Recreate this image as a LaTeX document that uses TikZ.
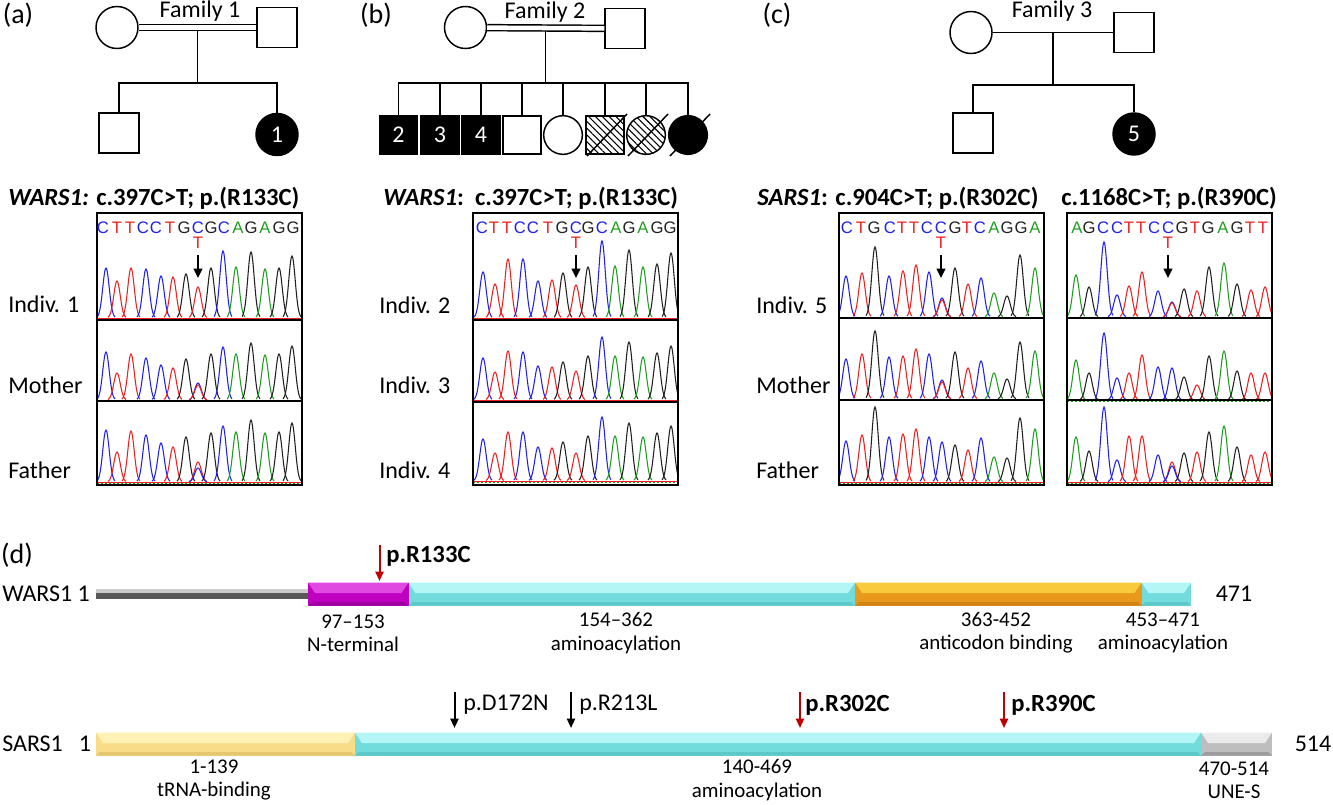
\documentclass[tikz,border=0pt]{standalone}
\usepackage{fontspec}
\setmainfont{Carlito}
\newfontfamily\seqfont{Liberation Sans}
\usetikzlibrary{patterns.meta,arrows.meta}
\definecolor{chA}{HTML}{1E9E1E}
\definecolor{chC}{HTML}{2020F0}
\definecolor{chG}{HTML}{202020}
\definecolor{chT}{HTML}{F01E1E}
\definecolor{mutred}{HTML}{C00000}
\definecolor{magL}{HTML}{E04AE0}
\definecolor{magM}{HTML}{C000C0}
\definecolor{magD}{HTML}{A000A0}
\definecolor{cyaL}{HTML}{B4F6F6}
\definecolor{cyaM}{HTML}{72DCDC}
\definecolor{cyaD}{HTML}{5CC8C8}
\definecolor{orgL}{HTML}{F8CA3C}
\definecolor{orgM}{HTML}{E8981A}
\definecolor{orgD}{HTML}{D08212}
\definecolor{yelL}{HTML}{FFF2B4}
\definecolor{yelM}{HTML}{F8DC88}
\definecolor{yelD}{HTML}{E6C670}
\definecolor{gryL}{HTML}{EBEBEB}
\definecolor{gryM}{HTML}{BEBEBE}
\definecolor{gryD}{HTML}{9C9C9C}
\newcommand\fsL{\fontsize{18pt}{21pt}\selectfont}
\newcommand\fsP{\fontsize{21pt}{24pt}\selectfont}
\newcommand\fsH{\fontsize{18.5pt}{21pt}\selectfont\bfseries}
\newcommand\fsD{\fontsize{15.7pt}{17.5pt}\selectfont}
\newcommand\fsQ{\seqfont\fontsize{12.5pt}{14pt}\selectfont}
\newcommand\chpk[4]{\draw[color=#4,line width=0.8pt] plot[domain=-9:9,samples=25,smooth] ({#1+\x},{#2-#3*exp(-(\x*\x)/21)});}
\newcommand\chlane[2]{\foreach \xx/\hh/\cc in {#2}{\chpk{\xx}{#1}{\hh}{\cc}}}
\newcommand\chbase[3]{\draw[chT,line width=0.5pt] (#1,#3) -- (#2,#3);\draw[chA,line width=0.4pt,dash pattern=on 1.5pt off 1.5pt] (#1,#3+0.8) -- (#2,#3+0.8);}
\newcommand\pdomain[6]{%
 \fill[#5] (#1,#3-11.5) rectangle (#2,#3+11.5);
 \fill[#4] (#1,#3-11.5) -- (#2,#3-11.5) -- (#2-7,#3-1) -- (#1+7,#3-1) -- cycle;
 \fill[#6] (#1,#3+11.5) -- (#2,#3+11.5) -- (#2-4,#3+8) -- (#1+4,#3+8) -- cycle;}
\tikzset{
 ped/.style={line width=1.1pt},
 psq/.style={draw,line width=1.1pt,rectangle,minimum size=30pt,inner sep=0pt},
 pci/.style={draw,line width=1.1pt,circle,minimum size=31.5pt,inner sep=0pt},
 ksq/.style={psq,minimum size=28.5pt},
 kci/.style={pci,minimum size=29pt},
 aff/.style={fill=black,text=white,font=\fsL},
 hatch/.style={pattern={Lines[angle=-45,distance=3.6pt,line width=0.8pt]}},
 lbl/.style={font=\fsL,inner sep=0pt},
 plbl/.style={font=\fsP,inner sep=0pt},
 hdr/.style={font=\fsH,inner sep=0pt,anchor=west},
 dlbl/.style={font=\fsD,inner sep=0pt,align=center},
 seq/.style={font=\fsQ,inner sep=0pt},
 mutarr/.style={-{Triangle[length=7pt,width=6.5pt]},line width=1.3pt},
 redarr/.style={-{Triangle[length=7pt,width=6pt]},line width=1.5pt,mutred},
 blkarr/.style={-{Triangle[length=7pt,width=6pt]},line width=1.5pt,black},
 dbl/.style={line width=1.1pt,double distance=3.4pt},
 cbox/.style={line width=1.5pt},
 cdiv/.style={line width=1.1pt}
}
\begin{document}
\begin{tikzpicture}[x=0.75pt,y=-0.75pt]
\useasboundingbox (0,0) rectangle (1333,804);
% ---------------- panel labels
\node[plbl] (la) at (18,15) {(a)};
\node[plbl] (lb) at (376,15) {(b)};
\node[plbl] (lc) at (777,15) {(c)};
\node[plbl] (ld) at (17,555) {(d)};
% ---------------- Family 1
\node[pci] (f1m) at (117,27.5) {};
\node[psq] (f1f) at (277,27.5) {};
\node[lbl] (f1t) at (200,11) {Family 1};
\draw[dbl] (f1m) -- (f1f);
\path (f1m.east) -- (f1f.west) coordinate[midway] (f1x);
\coordinate (f1s) at (f1x |- 0,83);
\node[psq] (f1k1) at (119,133) {};
\node[pci,aff] (f1k2) at (277,134.5) {1};
\draw[ped] ([yshift=-2.25pt]f1x) -- (f1s);
\draw[ped] (f1k1.north) |- (f1s) -| (f1k2.north);
% ---------------- Family 2
\node[pci] (f2m) at (465.5,27.5) {};
\node[psq] (f2f) at (625,28.5) {};
\node[lbl] (f2t) at (545,12) {Family 2};
\draw[dbl] (f2m) -- (f2f);
\path (f2m.east) -- (f2f.west) coordinate[midway] (f2x);
\coordinate (f2s) at (f2x |- 0,83);
\node[ksq,aff] (f2k1) at (398.5,135) {2};
\node[ksq,aff] (f2k2) at (440,135) {3};
\node[ksq,aff] (f2k3) at (481,135) {4};
\node[ksq] (f2k4) at (522,135) {};
\node[kci] (f2k5) at (563,135) {};
\node[ksq,hatch] (f2k6) at (605,135) {};
\node[kci,hatch] (f2k7) at (646,135) {};
\node[kci,fill=black] (f2k8) at (688,135) {};
\draw[ped] ([yshift=-2.25pt]f2x) -- (f2s);
\draw[ped] (f2k1.north) |- (f2s) -| (f2k8.north);
\foreach \i in {2,...,7} \draw[ped] (f2k\i.north) -- (f2k\i.north |- f2s);
\foreach \i in {6,7,8} \draw[ped] ([shift={(-18,21)}]f2k\i.center) -- ([shift={(22,-21)}]f2k\i.center);
% ---------------- Family 3
\node[pci] (f3m) at (971,32.5) {};
\node[psq] (f3f) at (1134,32.5) {};
\node[lbl] (f3t) at (1052,11) {Family 3};
\draw[ped] (f3m) -- (f3f);
\path (f3m.east) -- (f3f.west) coordinate[midway] (f3x);
\coordinate (f3s) at (f3x |- 0,85);
\node[psq] (f3k1) at (973,133) {};
\node[pci,aff] (f3k2) at (1134,134) {5};
\draw[ped] (f3x) -- (f3s);
\draw[ped] (f3k1.north) |- (f3s) -| (f3k2.north);
% ---------------- headers
\node[hdr] (ha) at (8,198) {\textit{WARS1:} c.397C>T; p.(R133C)};
\node[hdr] (hb) at (383,198) {\textit{WARS1}:\ \ c.397C>T; p.(R133C)};
\node[hdr] (hc) at (757,198) {\textit{SARS1}: c.904C>T; p.(R302C)};
\node[hdr] (hd) at (1061,198) {c.1168C>T; p.(R390C)};
% ---------------- lane labels
\node[lbl,anchor=west] (a1) at (8,304) {Indiv. 1};
\node[lbl,anchor=west] (a2) at (8,385) {Mother};
\node[lbl,anchor=west] (a3) at (8,470) {Father};
\node[lbl,anchor=west] (b1) at (379,305) {Indiv. 2};
\node[lbl,anchor=west] (b2) at (379,385) {Indiv. 3};
\node[lbl,anchor=west] (b3) at (379,470) {Indiv. 4};
\node[lbl,anchor=west] (c1) at (756,305) {Indiv. 5};
\node[lbl,anchor=west] (c2) at (756,385) {Mother};
\node[lbl,anchor=west] (c3) at (756,470) {Father};
% ---------------- chromatogram (a)
\begin{scope}
\clip (97,213) rectangle (302,485);
\chbase{97}{302}{318}\chbase{97}{302}{400}\chbase{97}{302}{482}
\chlane{318}{106/50/chC,117/37/chT,131/50/chT,146/49/chC,161/42/chC,173/41/chT,186/44/chG,198/31/chT,211/50/chG,223/67/chC,236/51/chA,251/66/chG,265/49/chA,279/50/chG,292/62/chG}
\chlane{400}{106/48/chC,117/27/chT,131/46/chT,146/42/chC,161/35/chC,173/32/chT,186/41/chG,198/17/chC,198/15/chT,211/46/chG,223/53/chC,236/46/chA,251/57/chG,265/45/chA,279/46/chG,292/54/chG}
\chlane{482}{106/52/chC,117/30/chT,131/51/chT,146/47/chC,161/39/chC,173/35/chT,186/45/chG,198/20/chT,198/14/chC,211/49/chG,223/56/chC,236/50/chA,251/62/chG,265/49/chA,279/50/chG,292/59/chG}
\end{scope}
\draw[cbox] (97,213) rectangle (302,485);
\draw[cdiv] (97,320) -- (302,320);
\draw[cdiv] (97,401) -- (302,401);
\foreach \xx/\ll/\cc in {103/C/chC,117/T/chT,130/T/chT,143/C/chC,156/C/chC,170/T/chT,184/G/chG,198/C/chC,211/G/chG,224/C/chC,238/A/chA,251/G/chG,265/A/chA,279/G/chG,293/G/chG}
 \node[seq,text=\cc] at (\xx,228) {\ll};
\node[seq,text=chT] (ta) at (198,243) {T};
\draw[mutarr] (198,255) -- (198,278);
% ---------------- chromatogram (b)
\begin{scope}
\clip (473,213) rectangle (678,485);
\chbase{473}{678}{318}\chbase{473}{678}{400}\chbase{473}{678}{481}
\chlane{318}{483/46/chC,495/34/chT,508/59/chT,523/59/chC,538/37/chC,552/38/chT,563/45/chG,576/33/chT,588/51/chG,602/77/chC,615/52/chA,629/68/chG,643/51/chA,657/54/chG,671/65/chG}
\chlane{400}{483/42/chC,495/28/chT,508/49/chT,523/48/chC,538/34/chC,552/33/chT,563/38/chG,576/29/chT,588/44/chG,602/63/chC,615/44/chA,629/58/chG,643/43/chA,657/47/chG,671/54/chG}
\chlane{481}{483/42/chC,495/28/chT,508/49/chT,523/49/chC,538/34/chC,552/33/chT,563/39/chG,576/28/chT,588/45/chG,602/64/chC,615/45/chA,629/58/chG,643/44/chA,657/48/chG,671/55/chG}
\end{scope}
\draw[cbox] (473,213) rectangle (678,485);
\draw[cdiv] (473,320) -- (678,320);
\draw[cdiv] (473,402) -- (678,402);
\foreach \xx/\ll/\cc in {482/C/chC,494/T/chT,507/T/chT,520/C/chC,533/C/chC,548/T/chT,562/G/chG,576/C/chC,588/G/chG,602/C/chC,616/A/chA,629/G/chG,643/A/chA,657/G/chG,670/G/chG}
 \node[seq,text=\cc] at (\xx,228) {\ll};
\node[seq,text=chT] (tb) at (576,243) {T};
\draw[mutarr] (576,255) -- (576,278);
% ---------------- chromatogram (c) box 1
\begin{scope}
\clip (839,213) rectangle (1044,485);
\chbase{839}{1044}{317}\chbase{839}{1044}{399}\chbase{839}{1044}{482}
\chlane{317}{846/41/chC,862/44/chT,875/70/chG,889/41/chC,903/46/chT,916/52/chT,929/45/chC,942/19/chC,942/17/chT,955/49/chG,968/33/chT,981/39/chC,994/24/chA,1007/21/chG,1020/62/chG,1035/49/chA}
\chlane{399}{846/40/chC,862/45/chT,875/68/chG,889/42/chC,903/43/chT,916/50/chT,929/45/chC,942/19/chC,942/17/chT,955/47/chG,968/31/chT,981/38/chC,994/26/chA,1007/20/chG,1020/57/chG,1035/48/chA}
\chlane{482}{846/41/chC,862/47/chT,875/75/chG,889/45/chC,903/48/chT,916/53/chT,929/45/chC,942/40/chC,955/37/chG,968/32/chT,981/44/chC,994/25/chA,1007/24/chG,1020/64/chG,1035/53/chA}
\end{scope}
\draw[cbox] (839,213) rectangle (1044,485);
\draw[cdiv] (839,318) -- (1044,318);
\draw[cdiv] (839,400) -- (1044,400);
\foreach \xx/\ll/\cc in {847/C/chC,861/T/chT,874/G/chG,890/C/chC,902/T/chT,914/T/chT,927/C/chC,941/C/chC,955/G/chG,967/T/chT,980/C/chC,994/A/chA,1007/G/chG,1021/G/chG,1035/A/chA}
 \node[seq,text=\cc] at (\xx,228) {\ll};
\node[seq,text=chT] (tc) at (941,243) {T};
\draw[mutarr] (941,255) -- (941,278);
% ---------------- chromatogram (c) box 2
\begin{scope}
\clip (1067,213) rectangle (1272,485);
\chbase{1067}{1272}{317}\chbase{1067}{1272}{400}\chbase{1067}{1272}{482}
\chlane{317}{1076/42/chA,1089/30/chG,1104/75/chC,1117/22/chC,1129/31/chT,1142/45/chT,1158/26/chC,1172/15/chC,1172/14/chT,1184/28/chG,1197/26/chT,1209/50/chG,1224/54/chA,1237/33/chG,1251/27/chT,1265/30/chT}
\chlane{400}{1076/40/chA,1089/27/chG,1104/67/chC,1117/22/chC,1129/27/chT,1142/45/chT,1158/33/chC,1172/32/chC,1184/23/chG,1197/15/chT,1209/44/chG,1224/49/chA,1237/29/chG,1251/27/chT,1265/27/chT}
\chlane{482}{1076/45/chA,1089/31/chG,1104/75/chC,1117/22/chC,1129/46/chT,1142/46/chT,1158/27/chC,1172/20/chT,1172/16/chC,1184/29/chG,1197/30/chT,1209/50/chG,1224/56/chA,1237/35/chG,1251/27/chT,1265/30/chT}
\end{scope}
\draw[cbox] (1067,213) rectangle (1272,485);
\draw[cdiv] (1067,318) -- (1272,318);
\draw[cdiv] (1067,400) -- (1272,400);
\foreach \xx/\ll/\cc in {1077/A/chA,1089/G/chG,1103/C/chC,1117/C/chC,1129/T/chT,1141/T/chT,1154/C/chC,1168/C/chC,1182/G/chG,1195/T/chT,1208/G/chG,1223/A/chA,1237/G/chG,1250/T/chT,1263/T/chT}
 \node[seq,text=\cc] at (\xx,228) {\ll};
\node[seq,text=chT] (td) at (1168,243) {T};
\draw[mutarr] (1168,255) -- (1168,278);
% ---------------- (d) WARS1
\node[lbl,anchor=west] (w1) at (2,594) {WARS1 1};
\fill[gryL!70!gray] (96,589) rectangle (308,593);
\fill[gray!70!black] (96,593) rectangle (308,599);
\pdomain{308}{408.5}{594}{magL}{magM}{magD}
\pdomain{408.5}{855}{594}{cyaL}{cyaM}{cyaD}
\pdomain{855}{1141.5}{594}{orgL}{orgM}{orgD}
\pdomain{1141.5}{1191}{594}{cyaL}{cyaM}{cyaD}
\node[lbl] (w2) at (1234,594) {471};
\coordinate (r133a) at (379.5,545);
\coordinate (r133b) at (379.5,581);
\draw[redarr] (r133a) -- (r133b);
\node[lbl,anchor=west,font=\fsH] (r133) at (386,556) {p.R133C};
\node[dlbl] (wd1) at (353,633) {97–153\\N-terminal};
\node[dlbl] (wd2) at (616,633) {154–362\\aminoacylation};
\node[dlbl] (wd3) at (996,633) {363-452\\anticodon binding};
\node[dlbl] (wd4) at (1163,633) {453–471\\aminoacylation};
% ---------------- (d) SARS1
\node[lbl,anchor=west] (s1) at (2,744) {SARS1};
\node[lbl] (s1b) at (85,744) {1};
\pdomain{96}{355}{744}{yelL}{yelM}{yelD}
\pdomain{355}{1201}{744}{cyaL}{cyaM}{cyaD}
\pdomain{1201}{1272}{744}{gryL}{gryM}{gryD}
\node[lbl] (s2) at (1313,744) {514};
\coordinate (d172a) at (454.5,692); \coordinate (d172b) at (454.5,728);
\coordinate (r213a) at (571,692); \coordinate (r213b) at (571,728);
\coordinate (r302a) at (800,692); \coordinate (r302b) at (800,728);
\coordinate (r390a) at (1004,692); \coordinate (r390b) at (1004,728);
\draw[blkarr] (d172a) -- (d172b);
\draw[blkarr] (r213a) -- (r213b);
\draw[redarr] (r302a) -- (r302b);
\draw[redarr] (r390a) -- (r390b);
\node[lbl,anchor=west] (d172) at (463,705) {p.D172N};
\node[lbl,anchor=west] (r213) at (579,705) {p.R213L};
\node[lbl,anchor=west,font=\fsH] (r302) at (805,705) {p.R302C};
\node[lbl,anchor=west,font=\fsH] (r390) at (1011,705) {p.R390C};
\node[dlbl] (sd1) at (214,780) {1-139\\tRNA-binding};
\node[dlbl] (sd2) at (757,780) {140-469\\aminoacylation};
\node[dlbl] (sd3) at (1234,780) {470-514\\UNE-S};
\end{tikzpicture}
\end{document}
